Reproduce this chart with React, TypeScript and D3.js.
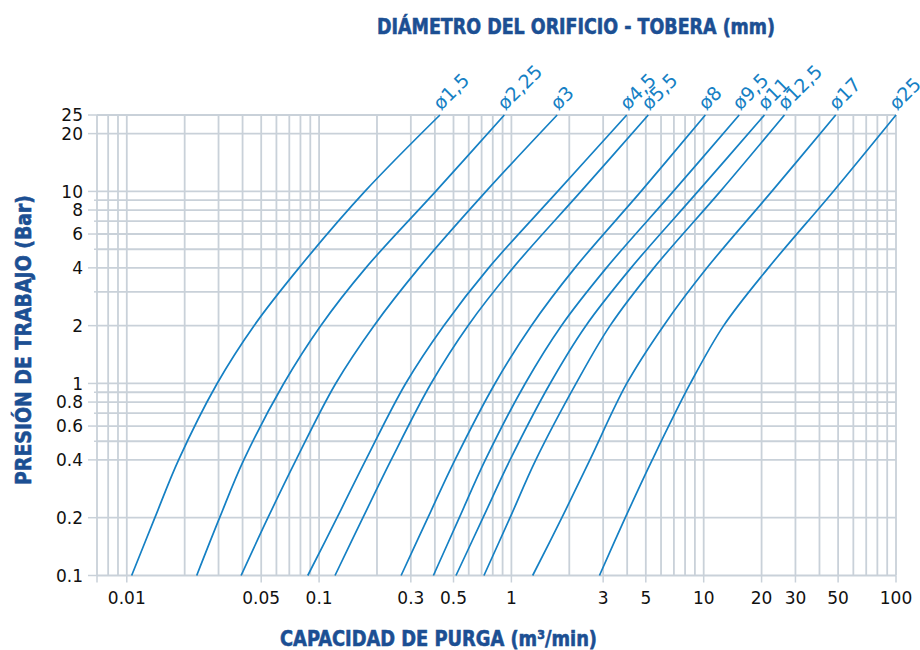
import React, { useEffect, useRef } from "react";
import * as d3 from "d3";

const pressures = [0.1, 0.2, 0.4, 1, 2, 4, 10, 25];

const nozzles = ["ø1,5", "ø2,25", "ø3", "ø4,5", "ø5,5", "ø8", "ø9,5", "ø11", "ø12,5", "ø17", "ø25"];

// flow (m3/min) at each pressure level, one array per nozzle
const flow1_5 = [0.0106, 0.014, 0.0186, 0.0295, 0.0459, 0.0786, 0.173, 0.425];
const flow2_25 = [0.0231, 0.0304, 0.0406, 0.0655, 0.102, 0.175, 0.404, 0.919];
const flow3 = [0.0393, 0.0542, 0.0759, 0.122, 0.193, 0.331, 0.738, 1.73];
const flow4_5 = [0.0873, 0.124, 0.175, 0.282, 0.445, 0.762, 1.74, 3.98];
const flow5_5 = [0.121, 0.169, 0.237, 0.382, 0.595, 1.02, 2.3, 5.15];
const flow8 = [0.267, 0.368, 0.509, 0.822, 1.27, 2.14, 4.72, 10.2];
const flow9_5 = [0.393, 0.536, 0.732, 1.18, 1.82, 3.12, 6.95, 15.3];
const flow11 = [0.515, 0.712, 0.984, 1.59, 2.44, 4.19, 9.34, 20.7];
const flow12_5 = [0.72, 0.984, 1.34, 2.17, 3.26, 5.51, 12.2, 26.3];
const flow17 = [1.29, 1.83, 2.56, 3.98, 6.19, 10.4, 22.6, 48.6];
const flow25 = [2.87, 3.91, 5.4, 8.52, 12.7, 21.7, 47.2, 100];

const flows = [flow1_5, flow2_25, flow3, flow4_5, flow5_5, flow8, flow9_5, flow11, flow12_5, flow17, flow25];

const xTickValues = [0.01, 0.05, 0.1, 0.3, 0.5, 1, 3, 5, 10, 20, 30, 50, 100];
const yTickValues = [25, 20, 10, 8, 6, 4, 2, 1, 0.8, 0.6, 0.4, 0.2, 0.1];
const yGridValues = [0.1, 0.2, 0.4, 0.5, 0.6, 0.7, 0.8, 0.9, 1, 2, 3, 4, 5, 6, 7, 8, 9, 10, 20, 25];

const BLUE = "#1580c4";
const NAVY = "#1c4f93";
const GRID = "#c9d1d9";
const FONT = "'DejaVu Sans', sans-serif";
const NARROW = "'Liberation Sans Narrow', 'DejaVu Sans Condensed', 'Liberation Sans', sans-serif";

export default function App() {
  const ref = useRef<SVGSVGElement>(null);

  useEffect(() => {
    const svg = d3.select(ref.current);
    svg.selectAll("*").remove();

    const x = d3.scaleLog().domain([0.007, 100]).range([97, 896]);
    const y = d3.scaleLog().domain([0.1, 25]).range([575.5, 115]);
    const yTop = y(25), yBot = y(0.1);

    // grid
    const grid = svg.append("g").attr("stroke", GRID).attr("stroke-width", 1.8);
    grid.selectAll("line.v")
      .data(x.ticks())
      .join("line")
      .attr("x1", d => x(d)).attr("x2", d => x(d))
      .attr("y1", yTop).attr("y2", yBot);
    grid.selectAll("line.h")
      .data(yGridValues)
      .join("line")
      .attr("x1", x(0.007)).attr("x2", x(100))
      .attr("y1", d => y(d)).attr("y2", d => y(d));

    // ticks
    const ticks = svg.append("g").attr("stroke", GRID).attr("stroke-width", 1.5);
    ticks.selectAll("line.yt")
      .data(yGridValues)
      .join("line")
      .attr("x1", d => x(0.007) - (yTickValues.includes(d) ? 9 : 3))
      .attr("x2", x(0.007))
      .attr("y1", d => y(d)).attr("y2", d => y(d));
    ticks.selectAll("line.xt")
      .data([0.007, ...xTickValues])
      .join("line")
      .attr("x1", d => x(d)).attr("x2", d => x(d))
      .attr("y1", yBot).attr("y2", yBot + 7);

    // tick labels
    svg.append("g")
      .attr("font-family", FONT).attr("font-size", 17).attr("fill", "#111")
      .attr("text-anchor", "end")
      .selectAll("text")
      .data(yTickValues)
      .join("text")
      .attr("x", 83)
      .attr("y", d => y(d))
      .attr("dy", "0.36em")
      .text(d => String(d));

    svg.append("g")
      .attr("font-family", FONT).attr("font-size", 17).attr("fill", "#111")
      .attr("text-anchor", "middle")
      .selectAll("text")
      .data(xTickValues)
      .join("text")
      .attr("x", d => x(d))
      .attr("y", 604)
      .text(d => String(d));

    // curves
    const line = d3.line<[number, number]>()
      .x(d => x(d[0]))
      .y(d => y(d[1]))
      .curve(d3.curveCatmullRom.alpha(0.5));

    const curves = svg.append("g");
    flows.forEach((f, i) => {
      const pts = f.map((v, k) => [v, pressures[k]] as [number, number]);
      curves.append("path")
        .attr("d", line(pts))
        .attr("fill", "none")
        .attr("stroke", BLUE)
        .attr("stroke-width", 1.7);
      const top = f[f.length - 1];
      curves.append("text")
        .attr("transform", `translate(${x(top) + 1},${yTop - 4}) rotate(-45)`)
        .attr("font-family", FONT)
        .attr("font-size", 19)
        .attr("fill", BLUE)
        .text(nozzles[i]);
    });

    // titles
    const title = (t: string, tx: number, ty: number, len: number, rot = 0) =>
      svg.append("text")
        .attr("transform", `translate(${tx},${ty}) rotate(${rot})`)
        .attr("text-anchor", "middle")
        .attr("font-family", NARROW)
        .attr("font-weight", 700)
        .attr("font-size", 22)
        .attr("fill", NAVY)
        .attr("stroke", NAVY)
        .attr("stroke-width", 0.6)
        .attr("textLength", len)
        .attr("lengthAdjust", "spacingAndGlyphs")
        .text(t);

    title("DIÁMETRO DEL ORIFICIO - TOBERA (mm)", 576, 34, 398);
    title("CAPACIDAD DE PURGA (m³/min)", 438.5, 646, 317);
    title("PRESIÓN DE TRABAJO (Bar)", 31, 340, 290, -90);
  }, []);

  return (
    <svg
      ref={ref}
      width={920}
      height={650}
      style={{ position: "absolute", left: 0, top: 0, background: "#fff" }}
    />
  );
}
